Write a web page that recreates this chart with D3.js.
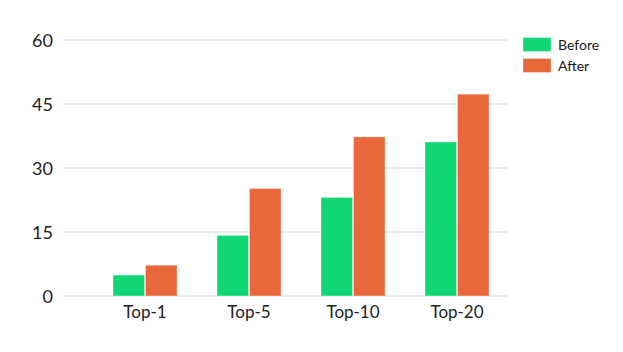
<!DOCTYPE html>
<html>
<head>
<meta charset="utf-8">
<script src="https://cdn.jsdelivr.net/npm/d3@7"></script>
<style>
  body { margin: 0; background: #fff; }
  svg text { font-family: Lato, "Open Sans", sans-serif; fill: #222; }
</style>
</head>
<body>
<svg id="chart" width="623" height="352"></svg>
<script>
  // data
  var categories = ["Top-1", "Top-5", "Top-10", "Top-20"];
  var seriesNames = ["Before", "After"];
  var before = [4.9, 14.2, 23.1, 36.1];
  var after = [7.2, 25.2, 37.3, 47.3];
  var yTicks = [0, 15, 30, 45, 60];
  var colors = ["#10d673", "#e8673b"];

  var svg = d3.select("#chart");

  var gridLeft = 63, gridRight = 508;

  var x = d3.scaleBand()
    .domain(categories)
    .range([93, 509])
    .paddingInner(0)
    .paddingOuter(0);

  var xInner = d3.scaleBand()
    .domain(seriesNames)
    .range([0, x.bandwidth()])
    .paddingOuter(0.6)
    .paddingInner(0);

  var y = d3.scaleLinear()
    .domain([0, 60])
    .range([296, 40]);

  // gridlines
  svg.append("g").attr("class", "grid")
    .selectAll("line")
    .data(yTicks)
    .enter().append("line")
    .attr("x1", gridLeft)
    .attr("x2", gridRight)
    .attr("y1", function(d) { return y(d); })
    .attr("y2", function(d) { return y(d); })
    .style("stroke", "#e6e6e6")
    .style("stroke-width", 1.5);

  // y axis labels
  var yAxis = d3.axisLeft(y).tickValues(yTicks).tickSize(0).tickPadding(0);
  var yG = svg.append("g")
    .attr("transform", "translate(53,0)")
    .call(yAxis);
  yG.select(".domain").remove();
  yG.selectAll("text")
    .style("font-size", "18px")
    .style("font-family", "Lato, sans-serif")
    .attr("fill", "#1a1a1a")
    .attr("dy", "0.36em");

  // bars
  var rows = categories.map(function(c, i) {
    return { cat: c, values: [before[i], after[i]] };
  });

  var groups = svg.append("g").selectAll("g")
    .data(rows)
    .enter().append("g")
    .attr("transform", function(d) { return "translate(" + x(d.cat) + ",0)"; });

  groups.selectAll("rect")
    .data(function(d) {
      return d.values.map(function(v, j) { return { name: seriesNames[j], value: v, idx: j }; });
    })
    .enter().append("rect")
    .attr("x", function(d) { return xInner(d.name) + 0.5; })
    .attr("width", xInner.bandwidth() - 1)
    .attr("y", function(d) { return y(d.value); })
    .attr("height", function(d) { return y(0) - y(d.value); })
    .style("fill", function(d) { return colors[d.idx]; })
    .style("stroke", "rgba(255,255,255,0.35)")
    .style("stroke-width", 1);

  // x axis labels
  var xAxis = d3.axisBottom(x).tickSize(0).tickPadding(0);
  var xG = svg.append("g")
    .attr("transform", "translate(0,318)")
    .call(xAxis);
  xG.select(".domain").remove();
  xG.selectAll("text")
    .style("font-size", "17px")
    .style("font-family", "Lato, sans-serif")
    .attr("fill", "#1a1a1a")
    .attr("dy", "0");

  // legend
  var legend = svg.append("g").selectAll("g")
    .data(seriesNames)
    .enter().append("g")
    .attr("transform", function(d, i) { return "translate(523," + (37.5 + i * 21) + ")"; });

  legend.append("rect")
    .attr("width", 28)
    .attr("height", 14)
    .style("fill", function(d, i) { return colors[i]; })
    .style("stroke", "rgba(255,255,255,0.35)");

  legend.append("text")
    .attr("x", 35)
    .attr("y", 12)
    .style("font-size", "14px")
    .style("fill", "#1a1a1a")
    .text(function(d) { return d; });
</script>
</body>
</html>
